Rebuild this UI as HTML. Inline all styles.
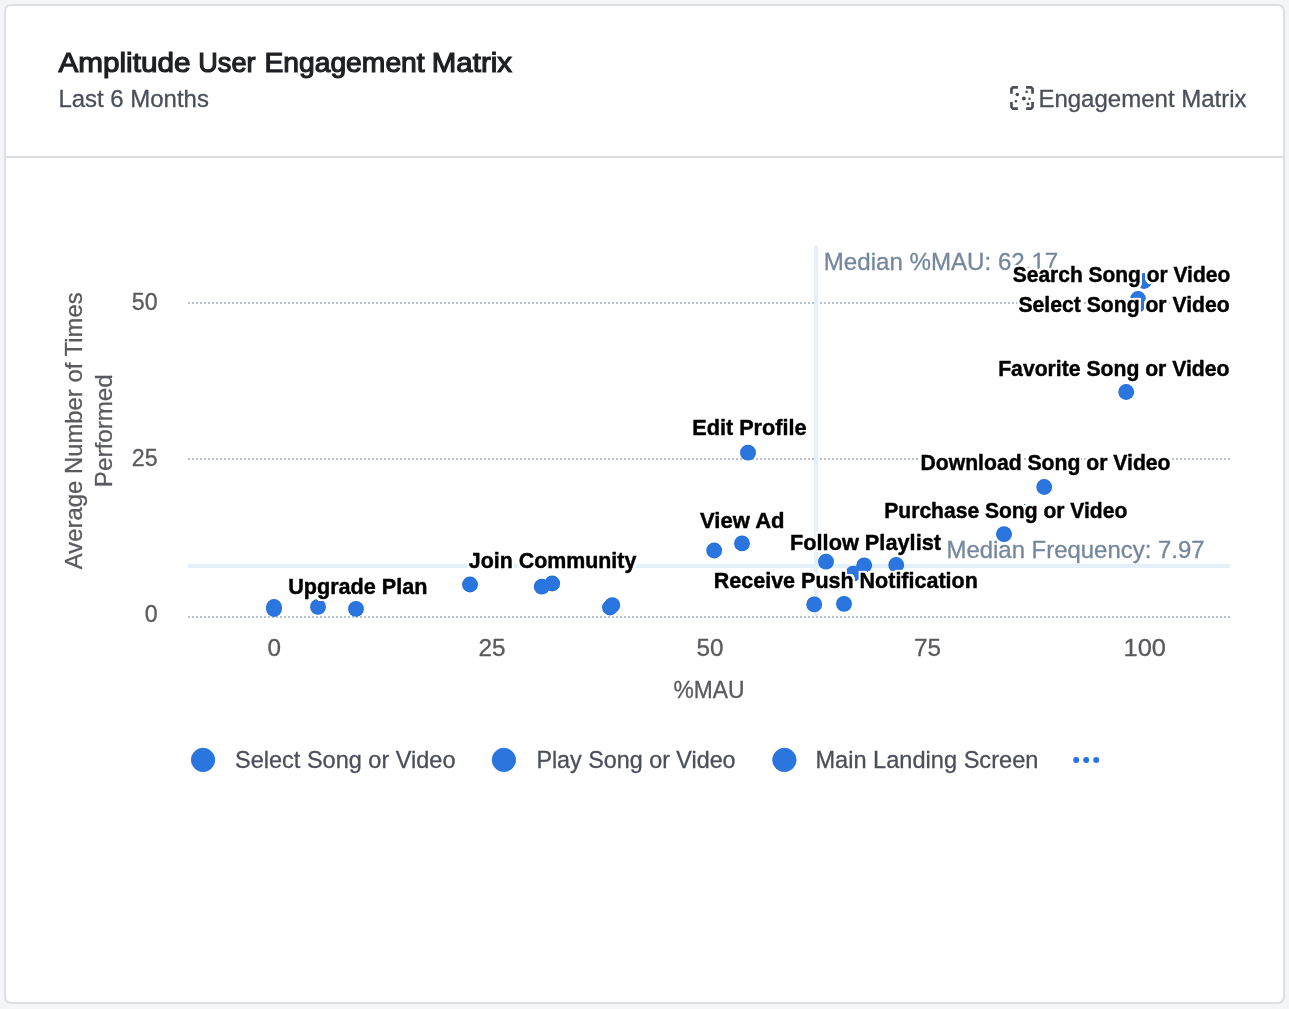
<!DOCTYPE html>
<html lang="en"><head><meta charset="utf-8"><title>Amplitude User Engagement Matrix</title>
<style>
html,body{margin:0;padding:0;}
body{width:1289px;height:1009px;background:#f4f5f7;overflow:hidden;position:relative;font-family:"Liberation Sans",sans-serif;}
.card{position:absolute;left:4px;top:4px;width:1277px;height:996px;border:2px solid #dddfe3;border-radius:7px;background:#fff;}
.sep{position:absolute;left:6px;top:156px;width:1277px;height:2px;background:#dddfe3;}
svg{position:absolute;left:0;top:0;}
svg text{font-family:"Liberation Sans",sans-serif;}
.dl{font-weight:700;fill:#000;stroke:#000;stroke-width:0.45px;stroke-linejoin:round;filter:url(#halo);}
</style></head><body>
<div class="card"></div><div class="sep"></div>
<svg width="1289" height="1009" viewBox="0 0 1289 1009">
<defs><filter id="halo" x="-5%" y="-30%" width="110%" height="160%" color-interpolation-filters="sRGB">
<feMorphology in="SourceAlpha" operator="dilate" radius="1.7" result="d"/>
<feGaussianBlur in="d" stdDeviation="0.45" result="b"/>
<feComponentTransfer in="b" result="h"><feFuncR type="linear" slope="0" intercept="1"/><feFuncG type="linear" slope="0" intercept="1"/><feFuncB type="linear" slope="0" intercept="1"/><feFuncA type="linear" slope="3" intercept="-0.6"/></feComponentTransfer>
<feMerge><feMergeNode in="h"/><feMergeNode in="SourceGraphic"/></feMerge></filter></defs>
<text y="72" font-size="28.4" fill="#1e2024" stroke="#1e2024" stroke-width="1.2"><tspan x="58.4" textLength="132.2" lengthAdjust="spacingAndGlyphs">Amplitude</tspan> <tspan x="198.3" textLength="57.2" lengthAdjust="spacingAndGlyphs">User</tspan> <tspan x="264.4" textLength="160.3" lengthAdjust="spacingAndGlyphs">Engagement</tspan> <tspan x="431.8" textLength="80.2" lengthAdjust="spacingAndGlyphs">Matrix</tspan></text>
<text x="58.4" y="107" font-size="24.3" fill="#4b4f5a" font-weight="400" text-anchor="start" textLength="150.5" lengthAdjust="spacingAndGlyphs" stroke="#4b4f5a" stroke-width="0.3">Last 6 Months</text>
<text x="1038.4" y="107" font-size="24.3" fill="#4b4f5a" font-weight="400" text-anchor="start" textLength="208.2" lengthAdjust="spacingAndGlyphs" stroke="#4b4f5a" stroke-width="0.3">Engagement Matrix</text>
<g fill="#4b4f5a"><path d="M1010.10 93.80 L1010.10 88.30 L1012.40 86.00 L1017.90 86.00 L1017.90 88.70 L1013.30 88.70 L1012.80 89.20 L1012.80 93.80Z"/><path d="M1033.90 93.80 L1033.90 88.30 L1031.60 86.00 L1026.10 86.00 L1026.10 88.70 L1030.70 88.70 L1031.20 89.20 L1031.20 93.80Z"/><path d="M1010.10 102.10 L1010.10 107.60 L1012.40 109.90 L1017.90 109.90 L1017.90 107.20 L1013.30 107.20 L1012.80 106.70 L1012.80 102.10Z"/><path d="M1033.90 102.10 L1033.90 107.60 L1031.60 109.90 L1026.10 109.90 L1026.10 107.20 L1030.70 107.20 L1031.20 106.70 L1031.20 102.10Z"/>
<circle cx="1017.3" cy="94.5" r="1.8"/><circle cx="1026.6" cy="91.9" r="1.3"/><circle cx="1023.9" cy="98.6" r="2"/>
<circle cx="1029.5" cy="98.7" r="1.3"/><circle cx="1015.9" cy="101.3" r="1.3"/><circle cx="1028" cy="103.9" r="1.4"/></g>
<path d="M188 303H1230" stroke="#b6c1d1" stroke-width="2" stroke-dasharray="2 2"/>
<path d="M188 459H1230" stroke="#b6c1d1" stroke-width="2" stroke-dasharray="2 2"/>
<path d="M188 617H1230" stroke="#b6c1d1" stroke-width="2" stroke-dasharray="2 2"/>
<rect x="814" y="246" width="4" height="370" fill="#e3f0fa"/>
<rect x="188" y="564" width="1042" height="4" fill="#e3f0fa"/>
<text x="823.8" y="270" font-size="24.3" fill="#74879d" font-weight="400" text-anchor="start" textLength="234.4" lengthAdjust="spacingAndGlyphs" stroke="#74879d" stroke-width="0.3">Median %MAU: 62.17</text>
<text x="946.5" y="558" font-size="24.3" fill="#74879d" font-weight="400" text-anchor="start" textLength="258" lengthAdjust="spacingAndGlyphs" stroke="#74879d" stroke-width="0.3">Median Frequency: 7.97</text>
<text x="157.6" y="310" font-size="23.2" fill="#595a5e" font-weight="400" text-anchor="end" stroke="#595a5e" stroke-width="0.3">50</text>
<text x="157.6" y="466" font-size="23.2" fill="#595a5e" font-weight="400" text-anchor="end" stroke="#595a5e" stroke-width="0.3">25</text>
<text x="157.6" y="622" font-size="23.2" fill="#595a5e" font-weight="400" text-anchor="end" stroke="#595a5e" stroke-width="0.3">0</text>
<text x="274.2" y="656" font-size="24.3" fill="#595a5e" font-weight="400" text-anchor="middle" stroke="#595a5e" stroke-width="0.3">0</text>
<text x="492" y="656" font-size="24.3" fill="#595a5e" font-weight="400" text-anchor="middle" stroke="#595a5e" stroke-width="0.3">25</text>
<text x="710" y="656" font-size="24.3" fill="#595a5e" font-weight="400" text-anchor="middle" stroke="#595a5e" stroke-width="0.3">50</text>
<text x="927.4" y="656" font-size="24.3" fill="#595a5e" font-weight="400" text-anchor="middle" stroke="#595a5e" stroke-width="0.3">75</text>
<text x="1144.8" y="656" font-size="24.3" fill="#595a5e" font-weight="400" text-anchor="middle" textLength="42.5" lengthAdjust="spacingAndGlyphs" stroke="#595a5e" stroke-width="0.3">100</text>
<text x="708.9" y="698" font-size="24.3" fill="#595a5e" font-weight="400" text-anchor="middle" textLength="71" lengthAdjust="spacingAndGlyphs" stroke="#595a5e" stroke-width="0.3">%MAU</text>
<text transform="translate(82,430.8) rotate(-90)" font-size="24.3" fill="#595a5e" stroke="#595a5e" stroke-width="0.3" text-anchor="middle" textLength="276.8" lengthAdjust="spacingAndGlyphs">Average Number of Times</text>
<text transform="translate(111.6,430.7) rotate(-90)" font-size="24.3" fill="#595a5e" stroke="#595a5e" stroke-width="0.3" text-anchor="middle" textLength="113" lengthAdjust="spacingAndGlyphs">Performed</text>
<g fill="#1e6cdb"><circle cx="274" cy="607" r="7.9"/><circle cx="274" cy="609" r="7.9"/><circle cx="318" cy="606.9" r="7.9"/><circle cx="356" cy="608.9" r="7.9"/><circle cx="470" cy="584.5" r="7.9"/><circle cx="541.8" cy="586.7" r="7.9"/><circle cx="552.2" cy="583.5" r="7.9"/><circle cx="610" cy="607.5" r="7.9"/><circle cx="612.3" cy="605.2" r="7.9"/><circle cx="714.2" cy="550.5" r="7.9"/><circle cx="742" cy="543.4" r="7.9"/><circle cx="748" cy="452.7" r="7.9"/><circle cx="826" cy="561.7" r="7.9"/><circle cx="853.3" cy="573.7" r="7.9"/><circle cx="864.2" cy="565.3" r="7.9"/><circle cx="896.2" cy="565" r="7.9"/><circle cx="814.2" cy="604.4" r="7.9"/><circle cx="844" cy="603.8" r="7.9"/><circle cx="1004" cy="534.2" r="7.9"/><circle cx="1025" cy="512" r="7.9"/><circle cx="1044.2" cy="487" r="7.9"/><circle cx="1126.2" cy="392" r="7.9"/><circle cx="1144" cy="281" r="7.9"/><circle cx="1138" cy="299" r="7.9"/><circle cx="1137.5" cy="305" r="7.9"/></g>
<g fill="#2b76de"><circle cx="274" cy="607" r="7.25"/><circle cx="274" cy="609" r="7.25"/><circle cx="318" cy="606.9" r="7.25"/><circle cx="356" cy="608.9" r="7.25"/><circle cx="470" cy="584.5" r="7.25"/><circle cx="541.8" cy="586.7" r="7.25"/><circle cx="552.2" cy="583.5" r="7.25"/><circle cx="610" cy="607.5" r="7.25"/><circle cx="612.3" cy="605.2" r="7.25"/><circle cx="714.2" cy="550.5" r="7.25"/><circle cx="742" cy="543.4" r="7.25"/><circle cx="748" cy="452.7" r="7.25"/><circle cx="826" cy="561.7" r="7.25"/><circle cx="853.3" cy="573.7" r="7.25"/><circle cx="864.2" cy="565.3" r="7.25"/><circle cx="896.2" cy="565" r="7.25"/><circle cx="814.2" cy="604.4" r="7.25"/><circle cx="844" cy="603.8" r="7.25"/><circle cx="1004" cy="534.2" r="7.25"/><circle cx="1025" cy="512" r="7.25"/><circle cx="1044.2" cy="487" r="7.25"/><circle cx="1126.2" cy="392" r="7.25"/><circle cx="1144" cy="281" r="7.25"/><circle cx="1138" cy="299" r="7.25"/><circle cx="1137.5" cy="305" r="7.25"/></g>
<g class="dl" font-size="22.3">
<text x="288.2" y="593.7" textLength="139.3" lengthAdjust="spacingAndGlyphs">Upgrade Plan</text>
<text x="468.8" y="567.5" textLength="167.5" lengthAdjust="spacingAndGlyphs">Join Community</text>
<text x="692.3" y="435.4" textLength="114.2" lengthAdjust="spacingAndGlyphs">Edit Profile</text>
<text x="700" y="527.5" textLength="84.6" lengthAdjust="spacingAndGlyphs">View Ad</text>
<text x="790" y="549.5" textLength="151" lengthAdjust="spacingAndGlyphs">Follow Playlist</text>
<text x="713.8" y="587.5" textLength="264" lengthAdjust="spacingAndGlyphs">Receive Push Notification</text>
<text x="884.3" y="517.5" textLength="243" lengthAdjust="spacingAndGlyphs">Purchase Song or Video</text>
<text x="920.5" y="469.5" textLength="250" lengthAdjust="spacingAndGlyphs">Download Song or Video</text>
<text x="998.2" y="375.7" textLength="231.3" lengthAdjust="spacingAndGlyphs">Favorite Song or Video</text>
<text x="1018.5" y="311.6" textLength="211.2" lengthAdjust="spacingAndGlyphs">Select Song or Video</text>
<text x="1012.8" y="281.9" textLength="217.4" lengthAdjust="spacingAndGlyphs">Search Song or Video</text>
</g>
<circle cx="203.05" cy="759.9" r="11.7" fill="#2b76de" stroke="#1e6cdb" stroke-width="0.8"/>
<circle cx="503.9" cy="759.9" r="11.7" fill="#2b76de" stroke="#1e6cdb" stroke-width="0.8"/>
<circle cx="784.4" cy="759.9" r="11.7" fill="#2b76de" stroke="#1e6cdb" stroke-width="0.8"/>
<text x="235" y="767.5" font-size="24.3" fill="#4b4f5a" font-weight="400" text-anchor="start" textLength="220.5" lengthAdjust="spacingAndGlyphs" stroke="#4b4f5a" stroke-width="0.3">Select Song or Video</text>
<text x="536.4" y="767.5" font-size="24.3" fill="#4b4f5a" font-weight="400" text-anchor="start" textLength="199.2" lengthAdjust="spacingAndGlyphs" stroke="#4b4f5a" stroke-width="0.3">Play Song or Video</text>
<text x="815.4" y="767.5" font-size="24.3" fill="#4b4f5a" font-weight="400" text-anchor="start" textLength="223" lengthAdjust="spacingAndGlyphs" stroke="#4b4f5a" stroke-width="0.3">Main Landing Screen</text>
<g fill="#2a72dc"><circle cx="1076.2" cy="760" r="3"/><circle cx="1086.2" cy="760" r="3"/><circle cx="1096.2" cy="760" r="3"/></g>
</svg></body></html>
